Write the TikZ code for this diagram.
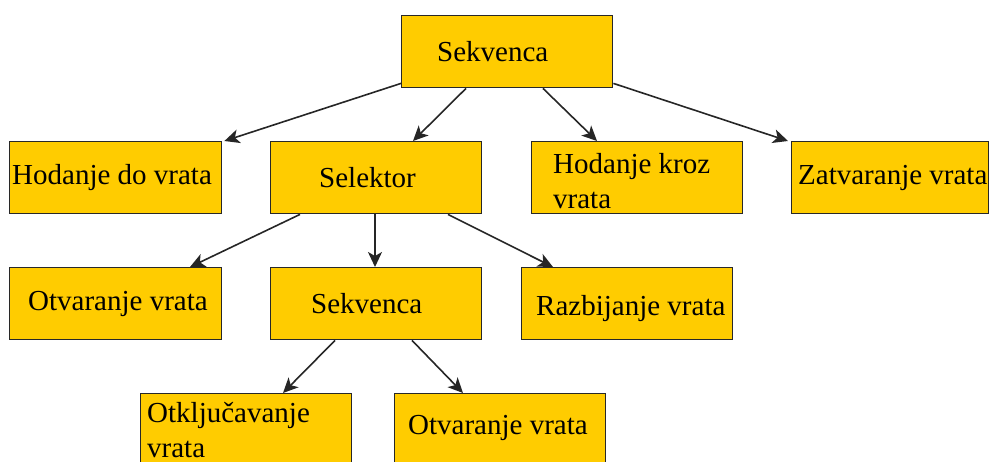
\documentclass[tikz,border=0pt]{standalone}
\usepackage{fontspec}
\setmainfont{Liberation Serif}
\usetikzlibrary{arrows.meta,positioning}
\definecolor{blokzuta}{RGB}{255,204,0}
\definecolor{okvir}{RGB}{40,40,40}

\begin{document}
\begin{tikzpicture}[x=1pt, y=-1pt,
    blok/.style={draw=okvir, fill=blokzuta, line width=1.4pt, rectangle, anchor=north west,
                 minimum width=211pt, minimum height=72pt, inner sep=0pt},
    tekst/.style={font=\fontsize{29}{35}\selectfont, inner sep=0pt, text=black},
    strelica/.style={-{Stealth[length=15pt,width=14pt,inset=4pt]}, line width=1.6pt, draw=black!85}
]

\useasboundingbox (0,0) rectangle (990,461);

% === Root: Sekvenca ===
\node[blok] (sek1) at (401,15) {};
\node[tekst, right=36pt of sek1.west] {Sekvenca};

% === Second level ===
\node[blok, minimum width=212pt] (hdv) at (9,141) {};
\node[tekst, right=3pt of hdv.west] {Hodanje do vrata};

\node[blok] (sel) at (270,141) {};
\node[tekst, right=49pt of sel.west] {Selektor};

\node[blok] (hkv) at (531,141) {};
\node[tekst, align=left, anchor=north west] at ([xshift=22pt,yshift=-12pt]hkv.north west) {Hodanje kroz\\vrata};

\node[blok, minimum width=197pt] (zat) at (791,141) {};
\node[tekst, right=7pt of zat.west] {Zatvaranje vrata};

% === Third level (under Selektor) ===
\node[blok, minimum width=212pt] (otv1) at (9,267) {};
\node[tekst, right=19pt of otv1.west] {Otvaranje vrata};

\node[blok] (sek2) at (270,267) {};
\node[tekst, right=41pt of sek2.west] {Sekvenca};

\node[blok] (raz) at (521,267) {};
\node[tekst, right=15pt of raz.west, yshift=-5pt] {Razbijanje vrata};

% === Fourth level (under Sekvenca) ===
\node[blok] (otk) at (140,393) {};
\node[tekst, align=left, anchor=north west] at ([xshift=7pt,yshift=-9pt]otk.north west) {Otključavanje\\vrata};

\node[blok] (otv2) at (394,393) {};
\node[tekst, right=14pt of otv2.west, yshift=2pt] {Otvaranje vrata};

% === Arrows ===
\draw[strelica] ([yshift=5pt]sek1.south west) -- ([xshift=2pt]hdv.north east);
\draw[strelica] ([xshift=65pt]sek1.south west) -- ([xshift=143pt]sel.north west);
\draw[strelica] ([xshift=142pt]sek1.south west) -- ([xshift=66pt]hkv.north west);
\draw[strelica] ([yshift=5pt]sek1.south east) -- ([xshift=-3pt]zat.north west);

\draw[strelica] ([xshift=30pt]sel.south west) -- ([xshift=181pt]otv1.north west);
\draw[strelica] ([xshift=105pt]sel.south west) -- ([xshift=105pt]sek2.north west);
\draw[strelica] ([xshift=178pt]sel.south west) -- ([xshift=32pt]raz.north west);

\draw[strelica] ([xshift=65pt]sek2.south west) -- ([xshift=143pt]otk.north west);
\draw[strelica] ([xshift=142pt]sek2.south west) -- ([xshift=69pt]otv2.north west);

\end{tikzpicture}
\end{document}
